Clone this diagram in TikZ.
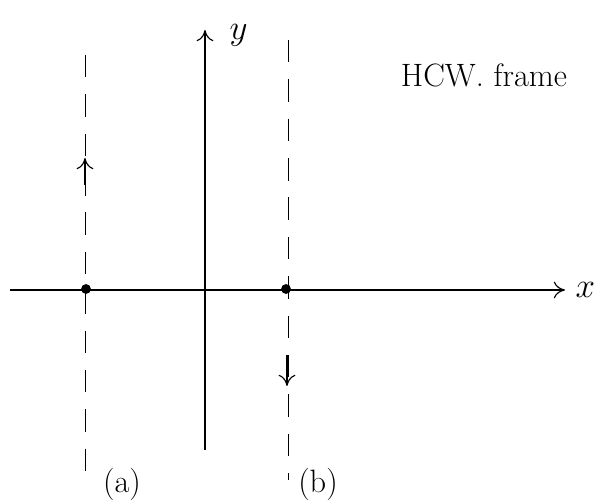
\documentclass[tikz,border=0pt]{standalone}
\usepackage{tikz}
\usetikzlibrary{arrows.meta, positioning}

\begin{document}
\begin{tikzpicture}[
        x=0.025cm, y=-0.025cm,
        every node/.style={align=center, font=\fontsize{23}{27}\selectfont},
        axis/.style={thick, -{To[length=8pt, width=12pt]}},
        orbit/.style={thin, dash pattern=on 16pt off 12pt},
        dirarr/.style={thick, -{To[length=8pt, width=12pt]}},
        pt/.style={circle, fill, inner sep=0pt, minimum size=7pt}
    ]
        \useasboundingbox (0,0) rectangle (606,504);
        % axes
        \coordinate (xs) at (10,290);
        \coordinate (xe) at (565,290);
        \coordinate (ys) at (205,450);
        \coordinate (ye) at (205,30);
        \draw[axis] (xs) -- (xe);
        \draw[axis] (ys) -- (ye);
        \node[right=4pt of xe] (xl) {$x$};
        \node[right=14pt of ye, yshift=-4pt] (yl) {$y$};
        % trajectories
        \node[pt] (pa) at (86,289) {};
        \node[pt] (pb) at (286,289) {};
        \coordinate (at) at (85,55);
        \coordinate (ab) at (85,475);
        \coordinate (bt) at (288,40);
        \coordinate (bb) at (288,480);
        \draw[orbit] (at) -- (ab);
        \draw[orbit] (bt) -- (bb);
        \coordinate (am1) at (85,185);
        \coordinate (am2) at (85,158);
        \coordinate (bm1) at (287,355);
        \coordinate (bm2) at (287,386);
        \draw[dirarr] (am1) -- (am2);
        \draw[dirarr] (bm1) -- (bm2);
        \node (la) at (122,484) {(a)};
        \node (lb) at (318,484) {(b)};
        \node (title) at (484,75) {HCW. frame};
    \end{tikzpicture}
\end{document}
